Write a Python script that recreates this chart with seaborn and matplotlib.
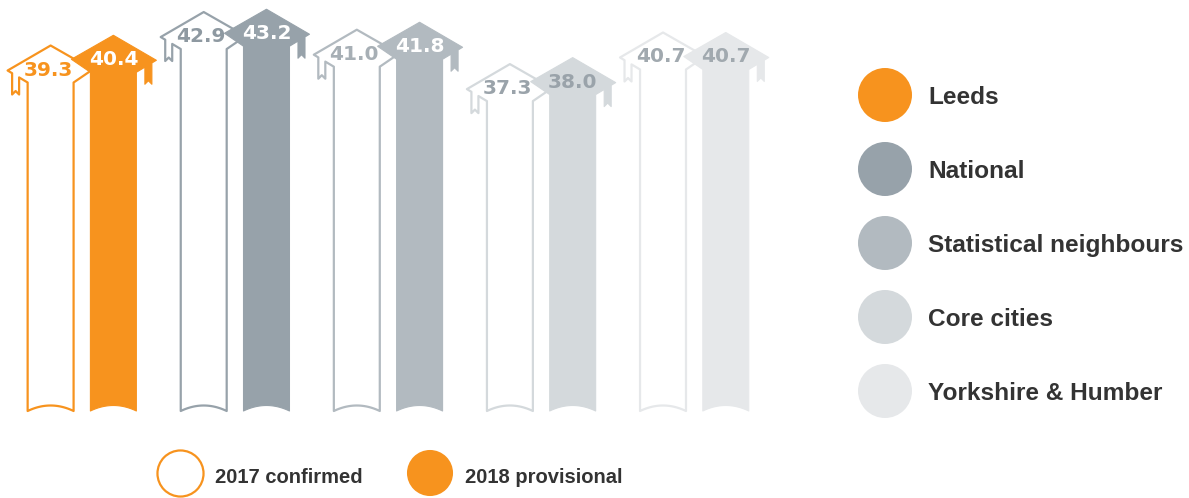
import numpy as np
import pandas as pd
import matplotlib
matplotlib.use("Agg")
import matplotlib.pyplot as plt
import seaborn as sns
from matplotlib.patches import Polygon

# ---------------- data ----------------
groups = ["Leeds", "National", "Statistical neighbours", "Core cities", "Yorkshire & Humber"]
years = ["2017 confirmed", "2018 provisional"]
values_2017 = [39.3, 42.9, 41.0, 37.3, 40.7]
values_2018 = [40.4, 43.2, 41.8, 38.0, 40.7]

# ---------------- styles ----------------
group_colors = ["#F7931E", "#97A2AA", "#B2BAC0", "#D4D9DC", "#E6E8EA"]
label_colors_2017 = ["#F7931E", "#8E99A1", "#A7AFB5", "#9AA3AA", "#A1A9AF"]
label_colors_2018 = ["white", "white", "white", "#9AA3AA", "#A1A9AF"]
text_dark = "#333333"

sns.set_theme(style="white")
plt.rcParams["font.family"] = ["Liberation Sans", "DejaVu Sans"]

W, H = 1189, 498
fig = plt.figure(figsize=(W / 100, H / 100), dpi=100)
ax = fig.add_axes([0, 0, 1, 1])

df = pd.DataFrame({
    "group": groups * 2,
    "year": [years[0]] * len(groups) + [years[1]] * len(groups),
    "value": values_2017 + values_2018,
})
sns.barplot(data=df, x="group", y="value", hue="year", order=groups,
            hue_order=years, width=0.82, gap=0.268, errorbar=None,
            legend=False, ax=ax)

bars = [(p.get_x(), p.get_width(), p.get_height()) for p in ax.patches]
for p in list(ax.patches):
    p.remove()

# pixel scale of the axes
PX_X = 153.1   # px per category unit
PX_Y = 9.3     # px per value unit
x0_px = 82.0   # pixel of category 0 centre
base_px = 411.0
ax.set_xlim(-x0_px / PX_X, (W - x0_px) / PX_X)
ax.set_ylim(-(H - base_px) / PX_Y, base_px / PX_Y)
ax.axis("off")

ARCH = 5.5 / PX_Y


def arrow_points(cx, hw, top, mirror):
    m = -1 if mirror else 1
    hw_px = hw * PX_X
    cap = [(0, 0), (43, 25), (38.5, 27.7), (38.5, 49), (35, 45.5),
           (31.5, 49), (31.5, 31.9), (hw_px, 37)]
    pts = [(cx + m * dx / PX_X, top - dy / PX_Y) for dx, dy in cap]
    for t in np.linspace(1, -1, 25):
        pts.append((cx + m * t * hw, ARCH * (1 - t ** 2)))
    tail = [(-hw_px, 37), (-42, 24)]
    pts += [(cx + m * dx / PX_X, top - dy / PX_Y) for dx, dy in tail]
    return pts


items = []
for (bx, bw, bh) in bars:
    c = bx + bw / 2
    gi = int(round(c))
    yi = 0 if c < gi else 1
    items.append((gi, yi, c, bw / 2, bh))
items.sort(key=lambda t: (t[0], t[1]))

for gi, yi, c, hw, h in items:
    col = group_colors[gi]
    z = 2 + 2 * gi + yi
    if yi == 0:
        poly = Polygon(arrow_points(c, hw, h, True), closed=True,
                       facecolor="white", edgecolor=col, linewidth=1.6,
                       joinstyle="round", zorder=z)
        lc = label_colors_2017[gi]
        tx = c - 2.5 / PX_X
    else:
        poly = Polygon(arrow_points(c, hw, h, False), closed=True,
                       facecolor=col, edgecolor=col, linewidth=0.8,
                       joinstyle="round", zorder=z)
        lc = label_colors_2018[gi]
        tx = c
    ax.add_patch(poly)
    ax.text(tx, h - 30 / PX_Y, f"{h:.1f}", ha="center", va="baseline",
            fontsize=14.5, fontweight="bold", color=lc,
            family=["DejaVu Sans"], zorder=z + 0.5)

# ---------------- legends ----------------
lax = fig.add_axes([0, 0, 1, 1], facecolor="none")
lax.set_xlim(0, W)
lax.set_ylim(H, 0)
lax.axis("off")

for k, g in enumerate(groups):
    yc = 95 + 74 * k
    lax.scatter([885], [yc], s=1512, color=group_colors[k], edgecolor="none")
    lax.text(928, yc + 9, g, ha="left", va="baseline", fontsize=17.6,
             fontweight="bold", color=text_dark)

lax.scatter([180], [473], s=1100, facecolor="white",
            edgecolor=group_colors[0], linewidth=1.6)
lax.text(215, 483, years[0], ha="left", va="baseline", fontsize=14.5,
         fontweight="bold", color=text_dark)
lax.scatter([430], [473], s=1100, color=group_colors[0], edgecolor="none")
lax.text(465, 483, years[1], ha="left", va="baseline", fontsize=14.5,
         fontweight="bold", color=text_dark)

fig.savefig("out.png", dpi=100)
